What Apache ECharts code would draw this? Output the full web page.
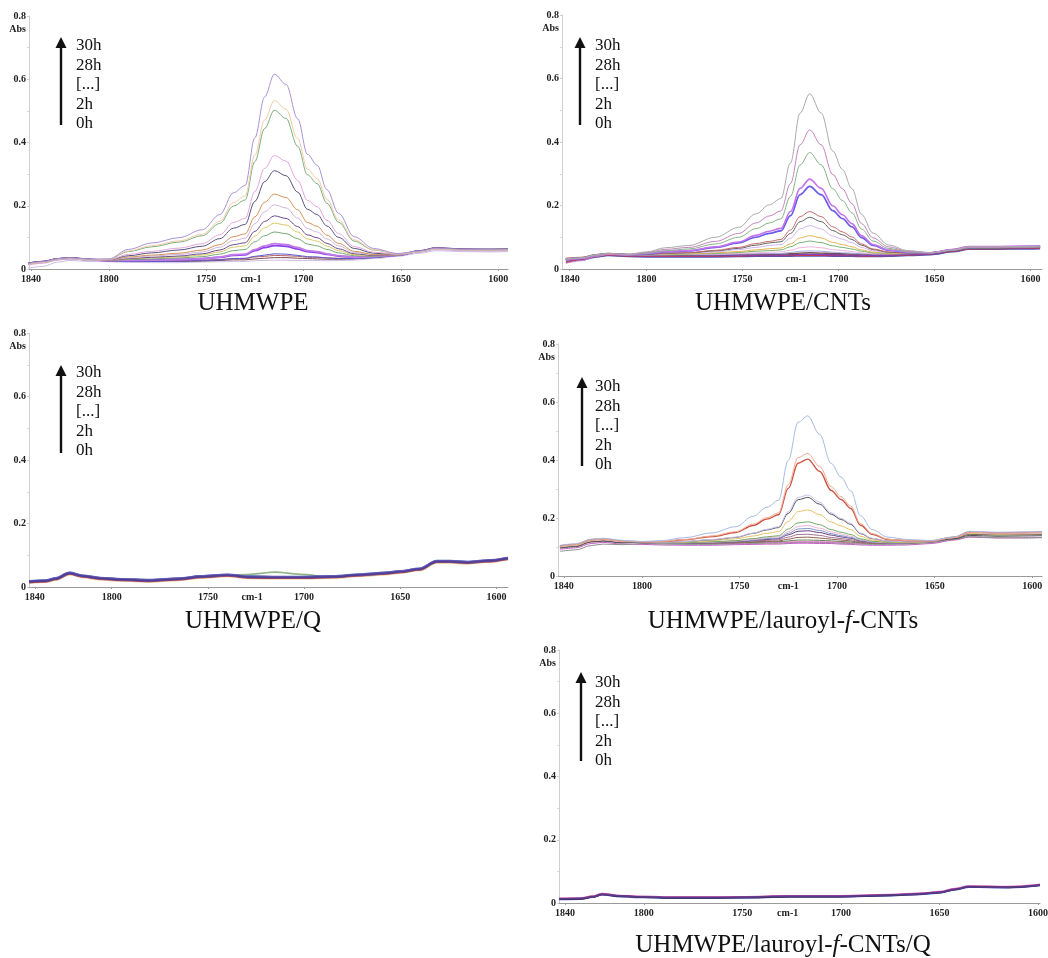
<!DOCTYPE html>
<html>
<head>
<meta charset="utf-8">
<script src="https://cdn.jsdelivr.net/npm/echarts@6/dist/echarts.min.js"></script>
<style>
  html, body { margin: 0; padding: 0; background: #ffffff; }
  #chart { width: 1048px; height: 958px; }
</style>
</head>
<body>
<div id="chart"></div>
<script>
// ---------------- DATA ----------------
const panelTitles = ['UHMWPE', 'UHMWPE/CNTs', 'UHMWPE/Q', 'UHMWPE/lauroyl-f-CNTs', 'UHMWPE/lauroyl-f-CNTs/Q'];
const timeLabels = ['30h', '28h', '[...]', '2h', '0h'];
const xTickValues = [1840, 1800, 1750, 1700, 1650, 1600];
const yTickLabels = ['0', '0.2', '0.4', '0.6', '0.8'];

// wavenumber grid (cm-1) for the three panels with an oxidation peak
const wnPeak = [1842, 1834, 1826, 1820, 1810, 1800, 1790, 1778, 1764, 1752, 1743, 1736, 1730, 1725, 1720, 1715, 1709, 1703, 1698, 1693, 1688, 1682, 1674, 1664, 1652, 1640, 1632, 1618, 1605, 1595];
// wavenumber grid for UHMWPE/Q
const wnQ = [1843, 1834, 1829, 1822, 1815, 1806, 1795, 1780, 1765, 1754, 1740, 1728, 1715, 1702, 1685, 1670, 1658, 1650, 1640, 1631, 1624, 1615, 1605, 1594];
// wavenumber grid for UHMWPE/lauroyl-f-CNTs/Q
const wnLQ = [1843, 1832, 1826, 1821, 1812, 1800, 1785, 1765, 1750, 1726, 1700, 1675, 1660, 1650, 1642, 1635, 1625, 1615, 1599];

// UHMWPE : 0h ... 30h (absorbance)
const absUHMWPE = [
  [0.002,0.008,0.022,0.027,0.024, 0.023,0.021,0.020,0.020,0.022,0.023,0.024,0.024,0.026,0.027,0.028,0.028,0.027,0.027,0.027,0.026,0.027,0.028,0.033,0.040, 0.050,0.058,0.055,0.054,0.055],
  [0.016,0.022,0.031,0.034,0.029, 0.026,0.025,0.024,0.024,0.025,0.027,0.029,0.029,0.032,0.034,0.036,0.036,0.034,0.033,0.032,0.031,0.031,0.032,0.036,0.043, 0.056,0.065,0.061,0.060,0.061],
  [0.018,0.024,0.033,0.036,0.031, 0.028,0.027,0.026,0.027,0.028,0.030,0.033,0.033,0.038,0.040,0.043,0.042,0.040,0.037,0.037,0.035,0.034,0.035,0.039,0.045, 0.058,0.067,0.063,0.062,0.063],
  [0.015,0.021,0.030,0.033,0.028, 0.025,0.024,0.024,0.025,0.027,0.029,0.033,0.034,0.040,0.044,0.048,0.047,0.043,0.039,0.038,0.035,0.033,0.033,0.036,0.042, 0.055,0.064,0.060,0.059,0.060],
  [0.017,0.023,0.032,0.035,0.030, 0.027,0.028,0.029,0.030,0.033,0.037,0.043,0.045,0.058,0.068,0.074,0.072,0.063,0.055,0.052,0.046,0.041,0.037,0.039,0.044, 0.057,0.066,0.062,0.061,0.062],
  [0.016,0.022,0.031,0.034,0.029, 0.027,0.027,0.028,0.030,0.033,0.038,0.045,0.047,0.061,0.073,0.080,0.077,0.068,0.058,0.055,0.048,0.042,0.037,0.039,0.044, 0.056,0.065,0.061,0.060,0.061],
  [0.014,0.020,0.030,0.033,0.028, 0.027,0.030,0.032,0.035,0.039,0.047,0.058,0.062,0.086,0.105,0.117,0.112,0.096,0.079,0.073,0.062,0.051,0.042,0.040,0.044, 0.054,0.063,0.059,0.058,0.059],
  [0.017,0.023,0.032,0.035,0.030, 0.027,0.032,0.035,0.038,0.044,0.054,0.069,0.073,0.104,0.130,0.145,0.139,0.117,0.095,0.088,0.072,0.058,0.045,0.042,0.044, 0.057,0.066,0.062,0.062,0.063],
  [0.016,0.022,0.031,0.034,0.029, 0.027,0.033,0.037,0.041,0.048,0.060,0.077,0.083,0.119,0.150,0.168,0.160,0.134,0.108,0.099,0.081,0.064,0.048,0.043,0.044, 0.056,0.065,0.061,0.061,0.062],
  [0.015,0.021,0.030,0.033,0.028, 0.028,0.035,0.041,0.046,0.054,0.069,0.090,0.097,0.143,0.181,0.203,0.193,0.161,0.128,0.117,0.095,0.073,0.052,0.045,0.045, 0.055,0.064,0.060,0.059,0.060],
  [0.017,0.023,0.032,0.035,0.030, 0.028,0.038,0.044,0.050,0.060,0.077,0.102,0.111,0.165,0.211,0.237,0.226,0.187,0.147,0.135,0.107,0.081,0.056,0.046,0.045, 0.057,0.066,0.062,0.061,0.062],
  [0.018,0.024,0.033,0.036,0.031, 0.029,0.042,0.051,0.060,0.072,0.096,0.129,0.141,0.214,0.276,0.311,0.295,0.243,0.189,0.172,0.136,0.100,0.065,0.050,0.046, 0.058,0.067,0.063,0.063,0.064],
  [0.012,0.018,0.028,0.032,0.028, 0.029,0.046,0.056,0.066,0.080,0.108,0.147,0.160,0.245,0.318,0.359,0.341,0.280,0.217,0.197,0.154,0.112,0.071,0.053,0.046, 0.054,0.062,0.058,0.057,0.058],
  [0.016,0.022,0.031,0.034,0.030, 0.031,0.055,0.070,0.085,0.105,0.144,0.199,0.218,0.340,0.444,0.502,0.476,0.388,0.298,0.270,0.208,0.148,0.088,0.060,0.048, 0.056,0.065,0.061,0.060,0.061],
  [0.015,0.021,0.031,0.034,0.029, 0.031,0.057,0.074,0.089,0.110,0.151,0.210,0.231,0.360,0.471,0.533,0.505,0.412,0.316,0.286,0.220,0.155,0.092,0.061,0.048, 0.055,0.064,0.060,0.060,0.061],
  [0.017,0.023,0.032,0.035,0.031, 0.032,0.062,0.082,0.099,0.124,0.172,0.241,0.264,0.415,0.544,0.616,0.584,0.475,0.363,0.328,0.251,0.176,0.102,0.065,0.049, 0.057,0.066,0.062,0.062,0.063]
];

// UHMWPE/CNTs : 0h ... 30h
const absCNTs = [
  [0.024,0.028,0.038,0.042,0.039, 0.038,0.038,0.038,0.038,0.039,0.040,0.040,0.040,0.040,0.041,0.041,0.041,0.040,0.040,0.040,0.039,0.039,0.040,0.042,0.045, 0.054,0.062,0.062,0.063,0.064],
  [0.020,0.030,0.040,0.044,0.041, 0.040,0.040,0.040,0.040,0.041,0.042,0.042,0.042,0.042,0.043,0.043,0.043,0.042,0.042,0.042,0.041,0.041,0.042,0.044,0.047, 0.056,0.064,0.064,0.065,0.066],
  [0.028,0.032,0.042,0.046,0.043, 0.042,0.042,0.042,0.042,0.044,0.044,0.044,0.044,0.045,0.046,0.046,0.046,0.045,0.045,0.044,0.044,0.043,0.044,0.046,0.049, 0.058,0.066,0.066,0.067,0.068],
  [0.030,0.034,0.044,0.048,0.045, 0.044,0.044,0.044,0.045,0.046,0.047,0.047,0.047,0.048,0.050,0.051,0.050,0.049,0.048,0.047,0.047,0.046,0.046,0.048,0.051, 0.060,0.068,0.068,0.069,0.070],
  [0.033,0.036,0.045,0.049,0.046, 0.044,0.045,0.045,0.045,0.047,0.048,0.049,0.049,0.052,0.056,0.057,0.056,0.053,0.051,0.050,0.048,0.047,0.047,0.048,0.051, 0.062,0.070,0.070,0.071,0.072],
  [0.032,0.035,0.045,0.049,0.046, 0.045,0.045,0.046,0.047,0.049,0.051,0.053,0.054,0.059,0.067,0.070,0.067,0.061,0.058,0.055,0.051,0.048,0.048,0.049,0.051, 0.061,0.069,0.069,0.070,0.071],
  [0.030,0.034,0.044,0.048,0.045, 0.045,0.046,0.047,0.049,0.052,0.056,0.058,0.060,0.070,0.083,0.088,0.083,0.073,0.068,0.063,0.056,0.051,0.049,0.049,0.051, 0.059,0.067,0.067,0.068,0.069],
  [0.033,0.036,0.045,0.049,0.046, 0.045,0.047,0.048,0.051,0.055,0.060,0.064,0.066,0.079,0.098,0.105,0.098,0.084,0.077,0.070,0.060,0.053,0.050,0.049,0.051, 0.062,0.070,0.070,0.071,0.072],
  [0.028,0.033,0.043,0.047,0.044, 0.046,0.048,0.050,0.054,0.061,0.068,0.074,0.077,0.097,0.126,0.137,0.126,0.104,0.094,0.083,0.068,0.057,0.052,0.050,0.051, 0.060,0.068,0.068,0.069,0.070],
  [0.031,0.035,0.044,0.048,0.045, 0.046,0.049,0.051,0.057,0.065,0.075,0.082,0.086,0.112,0.149,0.163,0.149,0.121,0.108,0.093,0.075,0.061,0.053,0.050,0.051, 0.058,0.066,0.066,0.067,0.068],
  [0.034,0.037,0.046,0.050,0.046, 0.047,0.050,0.052,0.059,0.068,0.080,0.087,0.093,0.123,0.165,0.181,0.165,0.133,0.117,0.101,0.079,0.063,0.054,0.051,0.051, 0.061,0.069,0.069,0.070,0.071],
  [0.030,0.034,0.044,0.048,0.045, 0.048,0.054,0.057,0.068,0.082,0.100,0.112,0.120,0.168,0.234,0.260,0.234,0.184,0.159,0.133,0.099,0.074,0.059,0.052,0.051, 0.060,0.068,0.069,0.070,0.071],
  [0.029,0.033,0.043,0.047,0.044, 0.049,0.055,0.058,0.070,0.085,0.106,0.119,0.128,0.181,0.254,0.283,0.254,0.199,0.171,0.143,0.105,0.077,0.060,0.053,0.051, 0.062,0.071,0.071,0.072,0.073],
  [0.031,0.035,0.044,0.048,0.045, 0.050,0.058,0.063,0.079,0.100,0.127,0.145,0.158,0.229,0.328,0.367,0.328,0.253,0.216,0.177,0.126,0.088,0.065,0.054,0.051, 0.059,0.067,0.067,0.068,0.069],
  [0.018,0.026,0.040,0.046,0.044, 0.052,0.062,0.068,0.087,0.112,0.145,0.167,0.183,0.269,0.391,0.438,0.391,0.298,0.253,0.206,0.143,0.098,0.070,0.056,0.051, 0.060,0.068,0.068,0.069,0.070],
  [0.032,0.035,0.045,0.049,0.046, 0.054,0.067,0.074,0.100,0.131,0.174,0.202,0.222,0.334,0.491,0.552,0.491,0.372,0.314,0.253,0.172,0.113,0.076,0.058,0.051, 0.061,0.070,0.070,0.071,0.072]
];

// UHMWPE/Q : overlapping traces
const absQ = [
  [0.012,0.015,0.022,0.039,0.030,0.023,0.019,0.016,0.021,0.028,0.033,0.027,0.026,0.026,0.028,0.034,0.039,0.044,0.052,0.076,0.076,0.073,0.078,0.086],
  [0.015,0.018,0.025,0.042,0.033,0.026,0.022,0.019,0.024,0.031,0.036,0.030,0.029,0.029,0.031,0.037,0.042,0.047,0.055,0.079,0.079,0.076,0.081,0.089],
  [0.016,0.019,0.026,0.042,0.034,0.027,0.023,0.020,0.025,0.032,0.036,0.040,0.047,0.040,0.031,0.037,0.042,0.047,0.055,0.079,0.079,0.076,0.081,0.089],
  [0.014,0.017,0.024,0.041,0.032,0.025,0.021,0.018,0.023,0.030,0.035,0.029,0.028,0.028,0.030,0.036,0.041,0.046,0.054,0.078,0.078,0.075,0.080,0.088],
  [0.019,0.022,0.029,0.046,0.037,0.030,0.026,0.023,0.028,0.035,0.040,0.034,0.033,0.033,0.035,0.041,0.046,0.051,0.059,0.083,0.083,0.080,0.085,0.093],
  [0.017,0.020,0.027,0.044,0.035,0.028,0.024,0.021,0.026,0.033,0.038,0.032,0.031,0.031,0.033,0.039,0.044,0.049,0.057,0.081,0.081,0.078,0.083,0.091],
  [0.018,0.021,0.028,0.045,0.036,0.029,0.025,0.022,0.027,0.034,0.039,0.033,0.032,0.032,0.034,0.040,0.045,0.050,0.058,0.082,0.082,0.079,0.084,0.092],
  [0.016,0.019,0.026,0.043,0.034,0.027,0.023,0.020,0.025,0.032,0.037,0.031,0.030,0.030,0.032,0.038,0.043,0.048,0.056,0.080,0.080,0.077,0.082,0.090]
];

// UHMWPE/lauroyl-f-CNTs : 0h ... 30h
const absLauroyl = [
  [0.092,0.097,0.112,0.116,0.110, 0.109,0.107,0.106,0.106,0.108,0.109,0.110,0.110,0.112,0.113,0.113,0.112,0.112,0.110,0.109,0.107,0.106,0.106,0.107,0.112, 0.124,0.134,0.131,0.132,0.133],
  [0.085,0.090,0.105,0.110,0.108, 0.112,0.110,0.109,0.109,0.111,0.112,0.113,0.113,0.115,0.116,0.116,0.115,0.115,0.113,0.112,0.110,0.109,0.109,0.110,0.115, 0.126,0.136,0.132,0.131,0.132],
  [0.100,0.105,0.122,0.125,0.118, 0.115,0.113,0.112,0.112,0.113,0.115,0.116,0.116,0.117,0.118,0.118,0.118,0.117,0.116,0.114,0.113,0.112,0.112,0.113,0.118, 0.132,0.146,0.143,0.144,0.145],
  [0.102,0.107,0.121,0.124,0.118, 0.115,0.113,0.112,0.113,0.114,0.116,0.118,0.118,0.121,0.124,0.124,0.123,0.121,0.119,0.117,0.114,0.113,0.112,0.113,0.118, 0.130,0.144,0.141,0.142,0.143],
  [0.099,0.104,0.120,0.123,0.117, 0.115,0.113,0.113,0.114,0.115,0.118,0.120,0.121,0.127,0.133,0.134,0.131,0.127,0.124,0.121,0.116,0.114,0.113,0.114,0.118, 0.131,0.147,0.144,0.145,0.146],
  [0.101,0.106,0.122,0.125,0.118, 0.115,0.114,0.113,0.114,0.117,0.120,0.123,0.125,0.134,0.143,0.144,0.140,0.133,0.129,0.125,0.118,0.115,0.113,0.114,0.118, 0.133,0.150,0.147,0.148,0.149],
  [0.098,0.103,0.119,0.122,0.116, 0.115,0.114,0.114,0.115,0.118,0.123,0.126,0.129,0.142,0.154,0.156,0.150,0.141,0.135,0.130,0.121,0.117,0.114,0.114,0.118, 0.131,0.146,0.143,0.144,0.145],
  [0.103,0.108,0.123,0.126,0.119, 0.115,0.114,0.114,0.116,0.119,0.124,0.129,0.131,0.147,0.162,0.164,0.157,0.146,0.139,0.133,0.123,0.117,0.114,0.114,0.118, 0.133,0.149,0.146,0.147,0.148],
  [0.100,0.105,0.121,0.124,0.118, 0.116,0.114,0.115,0.117,0.121,0.126,0.132,0.135,0.153,0.171,0.174,0.165,0.152,0.145,0.137,0.125,0.118,0.115,0.115,0.119, 0.132,0.148,0.145,0.146,0.147],
  [0.101,0.106,0.122,0.126,0.119, 0.116,0.114,0.115,0.118,0.122,0.129,0.135,0.139,0.162,0.183,0.187,0.177,0.160,0.151,0.143,0.128,0.120,0.116,0.115,0.119, 0.134,0.152,0.149,0.150,0.151],
  [0.100,0.105,0.121,0.125,0.118, 0.116,0.115,0.117,0.122,0.128,0.138,0.147,0.153,0.188,0.222,0.228,0.212,0.186,0.173,0.160,0.137,0.124,0.118,0.116,0.119, 0.132,0.147,0.144,0.145,0.146],
  [0.096,0.101,0.117,0.120,0.114, 0.117,0.116,0.119,0.125,0.133,0.147,0.159,0.167,0.216,0.263,0.271,0.248,0.213,0.195,0.178,0.146,0.129,0.120,0.118,0.120, 0.128,0.140,0.137,0.138,0.139],
  [0.102,0.107,0.123,0.126,0.119, 0.117,0.116,0.119,0.126,0.134,0.148,0.161,0.170,0.222,0.271,0.279,0.255,0.218,0.199,0.181,0.148,0.130,0.120,0.118,0.120, 0.133,0.150,0.147,0.148,0.149],
  [0.104,0.109,0.125,0.128,0.121, 0.118,0.119,0.125,0.136,0.150,0.174,0.196,0.211,0.302,0.389,0.403,0.361,0.295,0.264,0.233,0.175,0.144,0.126,0.122,0.121, 0.134,0.152,0.149,0.150,0.152],
  [0.103,0.108,0.124,0.127,0.120, 0.118,0.119,0.126,0.138,0.153,0.179,0.201,0.218,0.315,0.408,0.423,0.378,0.308,0.274,0.241,0.180,0.146,0.127,0.122,0.121, 0.133,0.151,0.148,0.149,0.150],
  [0.106,0.111,0.127,0.130,0.123, 0.119,0.122,0.132,0.149,0.170,0.206,0.237,0.261,0.399,0.530,0.552,0.489,0.388,0.341,0.294,0.208,0.160,0.134,0.126,0.122, 0.135,0.154,0.151,0.152,0.153]
];

// UHMWPE/lauroyl-f-CNTs/Q : overlapping traces
const absLauroylQ = [
  [0.013,0.014,0.020,0.028,0.022,0.019,0.017,0.017,0.018,0.021,0.021,0.025,0.029,0.034,0.044,0.052,0.051,0.050,0.057],
  [0.015,0.016,0.022,0.030,0.024,0.021,0.019,0.019,0.020,0.023,0.023,0.027,0.031,0.036,0.046,0.054,0.053,0.052,0.059],
  [0.011,0.012,0.018,0.026,0.020,0.017,0.015,0.015,0.016,0.019,0.019,0.023,0.027,0.032,0.042,0.050,0.049,0.048,0.055],
  [0.014,0.015,0.021,0.029,0.023,0.020,0.018,0.018,0.019,0.022,0.022,0.026,0.030,0.035,0.045,0.053,0.052,0.051,0.058],
  [0.012,0.013,0.019,0.027,0.021,0.018,0.016,0.016,0.017,0.020,0.020,0.024,0.028,0.033,0.043,0.051,0.050,0.049,0.056],
  [0.013,0.014,0.019,0.027,0.022,0.019,0.017,0.017,0.018,0.021,0.021,0.025,0.028,0.033,0.043,0.051,0.050,0.050,0.056]
];

// ---------------- STYLE / LAYOUT ----------------
const colorsUHMWPE = ['#c9bde6','#7a4a50','#b86060','#5a5ad0','#8a3ef0','#c27ce6','#74aa74','#d9c865','#6b4c8c','#cdb6dc','#d49058','#55557f','#e4a6dc','#7cae7c','#f2c9a6','#a793d8'];
const colorsCNTs = ['#4a58b8','#c03858','#8040c0','#705050','#a8a8e0','#f0b4e0','#74b474','#e2b64e','#d2b4f2','#646464','#c46a6a','#6a5ce6','#c474ec','#86b486','#c484bc','#ababab'];
const colorsQ = ['#e8c48a','#c05050','#92b48a','#a04a70','#4860b0','#8464c4','#6a5ab8','#4e3e96'];
const colorsLauroyl = ['#c85ac8','#8f8f8f','#e064d0','#64844e','#946050','#a27494','#624284','#8494c4','#eab4da','#72aa62','#e8c264','#505050','#c8c2ea','#cc5444','#f2aa94','#a9bae2'];
const colorsLauroylQ = ['#a04848','#d070c0','#5050c0','#b040a0','#303048','#5a3a8a'];

const SERIF = '"Liberation Serif", "DejaVu Serif", serif';

const panels = [
  { title: panelTitles[0], wn: wnPeak, data: absUHMWPE, colors: colorsUHMWPE, widths: {4:1.8,5:1.8},
    grid: {left: 29, top: 16, width: 479, height: 253}, xmin: 1595, xmax: 1841, cm: 1727,
    titleX: 253, titleY: 291, arrowX: 61, arrowTop: 37, arrowBottom: 125, labX: 76, labY: 46 },
  { title: panelTitles[1], wn: wnPeak, data: absCNTs, colors: colorsCNTs, widths: {0:1.4,1:1.4,2:1.4,3:1.4,11:1.7,12:1.6},
    grid: {left: 562, top: 15, width: 480, height: 254}, xmin: 1594, xmax: 1844, cm: 1722,
    titleX: 783, titleY: 291, arrowX: 580, arrowTop: 37, arrowBottom: 125, labX: 595, labY: 46 },
  { title: panelTitles[2], wn: wnQ, data: absQ, colors: colorsQ, widths: {all: 1.7},
    grid: {left: 29, top: 333, width: 479, height: 254}, xmin: 1594, xmax: 1843, cm: 1727,
    titleX: 253, titleY: 609, arrowX: 61, arrowTop: 365, arrowBottom: 453, labX: 76, labY: 373 },
  { title: panelTitles[3], wn: wnPeak, data: absLauroyl, colors: colorsLauroyl, widths: {13:1.4},
    grid: {left: 558, top: 344, width: 484, height: 232}, xmin: 1595, xmax: 1843, cm: 1725,
    titleX: 783, titleY: 609, arrowX: 582, arrowTop: 377, arrowBottom: 466, labX: 595, labY: 387, italic: true },
  { title: panelTitles[4], wn: wnLQ, data: absLauroylQ, colors: colorsLauroylQ, widths: {all: 1.5},
    grid: {left: 559, top: 650, width: 481, height: 253}, xmin: 1599, xmax: 1843, cm: 1727,
    titleX: 783, titleY: 933, arrowX: 581, arrowTop: 672, arrowBottom: 761, labX: 595, labY: 683, italic: true }
];

const grids = [], xAxes = [], yAxes = [], series = [], titles = [], graphics = [];

panels.forEach((p, pi) => {
  grids.push(Object.assign({ containLabel: false, outerBoundsMode: 'none' }, p.grid));
  xAxes.push({
    type: 'value', gridIndex: pi, min: p.xmin, max: p.xmax, inverse: true,
    axisLine: { show: true, onZero: false, lineStyle: { color: '#9a9a9a', width: 1 } },
    axisTick: { show: true, customValues: xTickValues, length: 2, lineStyle: { color: '#9a9a9a' } },
    axisLabel: {
      customValues: xTickValues.slice(0, 3).concat([p.cm], xTickValues.slice(3)),
      formatter: v => (v === p.cm ? 'cm-1' : String(v)),
      fontFamily: SERIF, fontWeight: 'bold', fontSize: 10, color: '#222', margin: 5
    },
    splitLine: { show: false }
  });
  yAxes.push({
    type: 'value', gridIndex: pi, min: 0, max: 0.8, interval: 0.2,
    axisLine: { show: true, lineStyle: { color: '#cfcfcf', width: 1 } },
    axisTick: { show: true, length: 2, lineStyle: { color: '#cfcfcf' } },
    minorTick: { show: true, splitNumber: 2, length: 2, lineStyle: { color: '#dadada' } },
    axisLabel: {
      formatter: v => yTickLabels[Math.round(v / 0.2)],
      fontFamily: SERIF, fontWeight: 'bold', fontSize: 10, color: '#222', margin: 3
    },
    splitLine: { show: false }
  });

  p.data.forEach((vals, si) => {
    const w = p.widths.all || p.widths[si] || 1;
    series.push({
      type: 'line', xAxisIndex: pi, yAxisIndex: pi,
      data: p.wn.map((x, k) => [x, vals[k]]),
      showSymbol: false, symbol: 'none', smooth: 0.35, smoothMonotone: 'x',
      lineStyle: { color: p.colors[si], width: w },
      silent: true, z: 2 + si
    });
  });

  if (p.italic) {
    const parts = p.title.split('-f-');
    titles.push({
      text: '{n|' + parts[0] + '-}{i|f}{n|-' + parts[1] + '}',
      left: p.titleX, top: p.titleY, textAlign: 'center', padding: 0,
      textStyle: { rich: {
        n: { fontFamily: SERIF, fontSize: 25, color: '#111', fontWeight: 'normal' },
        i: { fontFamily: SERIF, fontSize: 25, color: '#111', fontStyle: 'italic', fontWeight: 'normal' }
      } }
    });
  } else {
    titles.push({
      text: p.title, left: p.titleX, top: p.titleY, textAlign: 'center', padding: 0,
      textStyle: { fontFamily: SERIF, fontSize: 25, color: '#111', fontWeight: 'normal' }
    });
  }

  // "Abs" unit label under 0.8
  graphics.push({
    type: 'text', x: p.grid.left - 3, y: p.grid.top + 13,
    style: { text: 'Abs', font: 'bold 10px ' + SERIF, fill: '#222', align: 'right', verticalAlign: 'middle' }
  });
  // arrow of increasing time
  graphics.push({
    type: 'line',
    shape: { x1: p.arrowX, y1: p.arrowTop + 6, x2: p.arrowX, y2: p.arrowBottom },
    style: { stroke: '#111', lineWidth: 2.4 }
  });
  graphics.push({
    type: 'polygon',
    shape: { points: [[p.arrowX - 5.5, p.arrowTop + 11], [p.arrowX, p.arrowTop], [p.arrowX + 5.5, p.arrowTop + 11]] },
    style: { fill: '#111' }
  });
  graphics.push({
    type: 'text', x: p.labX, y: p.labY - 9.75,
    style: { text: timeLabels.join('\n'), font: '17px ' + SERIF, fill: '#111', lineHeight: 19.5, verticalAlign: 'top', align: 'left' }
  });
});

const chart = echarts.init(document.getElementById('chart'), null, { renderer: 'canvas' });
chart.setOption({
  backgroundColor: '#ffffff',
  animation: false,
  title: titles,
  grid: grids,
  xAxis: xAxes,
  yAxis: yAxes,
  series: series,
  graphic: graphics
});
</script>
</body>
</html>
